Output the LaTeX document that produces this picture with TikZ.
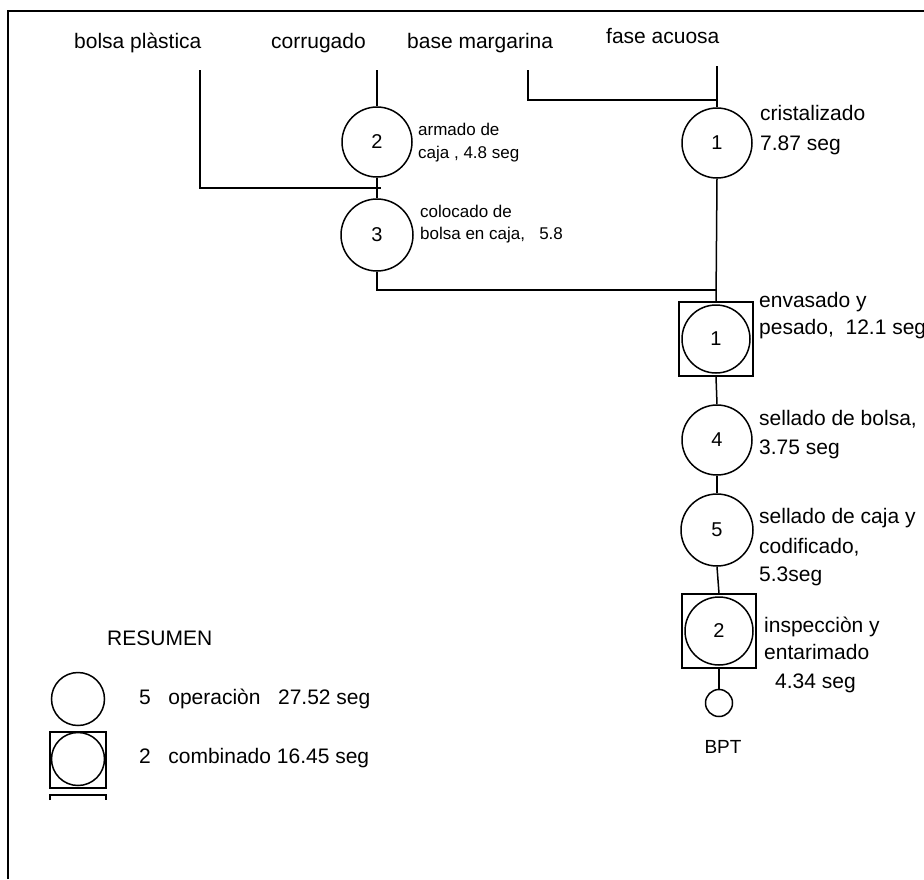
\documentclass[tikz,border=0pt]{standalone}
\usepackage{fontspec}
\setmainfont{Liberation Sans}
\begin{document}
\begin{tikzpicture}[x=1pt,y=-1pt,
  ln/.style={line width=1.5pt},
  op/.style={circle, draw, line width=1.5pt, minimum size=70pt, inner sep=0pt, font=\fontsize{20}{22}\selectfont},
  sqbox/.style={rectangle, draw, line width=1.2pt, minimum size=74pt, inner sep=0pt},
  lbl/.style={anchor=base west, inner sep=0pt, font=\fontsize{21}{24}\selectfont},
  slbl/.style={anchor=base west, inner sep=0pt, font=\fontsize{17}{20}\selectfont}]
\useasboundingbox (0,0) rectangle (924,879);
% frame
\draw[line width=1.5pt] (8,879) -- (8,11) -- (924,11);
% header labels
\node[lbl] (hbp) at (74,48) {bolsa plàstica};
\node[lbl] (hco) at (271,48) {corrugado};
\node[lbl] (hbm) at (407,48) {base margarina};
\node[lbl] (hfa) at (606,43) {fase acuosa};
% coordinates for line starts
\coordinate (sbp) at (200,70);
\coordinate (sco) at (377,70);
\coordinate (sbm) at (528,70);
\coordinate (sfa) at (717,66);
\coordinate (j1) at (381,188);
\coordinate (j2) at (717,100);
\coordinate (j3) at (717,290);
% left column
\node[op] (c2) at (377,142) {2};
\node[op, minimum size=72pt] (c3) at (377,235) {3};
% right column
\node[op] (c1) at (717,143) {1};
\node[sqbox] (b1) at (716,339) {};
\node[op, minimum size=68pt] (o1) at (716,339) {1};
\node[op] (c4) at (717,440) {4};
\node[op, minimum size=72pt] (c5) at (717,530) {5};
\node[sqbox] (b2) at (719,631) {};
\node[op, minimum size=68pt] (o2) at (719,631) {2};
\node[circle, draw, line width=1.5pt, minimum size=27pt, inner sep=0pt] (fin) at (719,703) {};
\node[anchor=base, inner sep=0pt, font=\fontsize{19}{22}\selectfont] (bpt) at (723,753) {BPT};
% connectors
\draw[ln] (sco) -- (c2.north);
\draw[ln] (c2.south) -- (c3.north);
\draw[ln] (sbp) |- (j1);
\draw[ln] (sfa) -- (c1.north);
\draw[ln] (sbm) |- (j2);
\draw[ln] (c1.south) -- (b1.north);
\draw[ln] (c3.south) |- (j3);
\draw[ln] (b1.south) -- (c4.north);
\draw[ln] (c4.south) -- (c5.north);
\draw[ln] (c5.south) -- (b2.north);
\draw[ln] (b2.south) -- (fin.north);
% labels
\node[slbl] (l2a) at (418,135) {armado de};
\node[slbl] (l2b) at (418,158) {caja , 4.8 seg};
\node[slbl] (l3a) at (420,217) {colocado de};
\node[slbl] (l3b) at (420,239) {bolsa en caja,\ \ \ 5.8};
\node[lbl] (l1a) at (760,120) {cristalizado};
\node[lbl] (l1b) at (760,150) {7.87 seg};
\node[lbl] (lb1a) at (759,307) {envasado y};
\node[lbl] (lb1b) at (759,334) {pesado,\ \ 12.1 seg};
\node[lbl] (l4a) at (759,425) {sellado de bolsa,};
\node[lbl] (l4b) at (759,454) {3.75 seg};
\node[lbl] (l5a) at (759,523) {sellado de caja y};
\node[lbl] (l5b) at (759,553) {codificado,};
\node[lbl] (l5c) at (759,581) {5.3seg};
\node[lbl] (lb2a) at (764,632) {inspecciòn y};
\node[lbl] (lb2b) at (764,659) {entarimado};
\node[lbl] (lb2c) at (775,688) {4.34 seg};
% legend
\node[lbl] (res) at (107,645) {RESUMEN};
\node[op, minimum size=53pt] (lgc) at (78,699) {};
\node[lbl] (lgt1) at (139,704) {5\ \ \ operaciòn\ \ \ 27.52 seg};
\node[sqbox, minimum size=56pt] (lgb) at (78,760) {};
\node[op, minimum size=53pt] (lgo) at (78,759) {};
\node[lbl] (lgt2) at (139,763) {2\ \ \ combinado 16.45 seg};
\draw[line width=1.2pt] (50,800) -- (50,795) -- (106,795) -- (106,800);
\end{tikzpicture}
\end{document}
